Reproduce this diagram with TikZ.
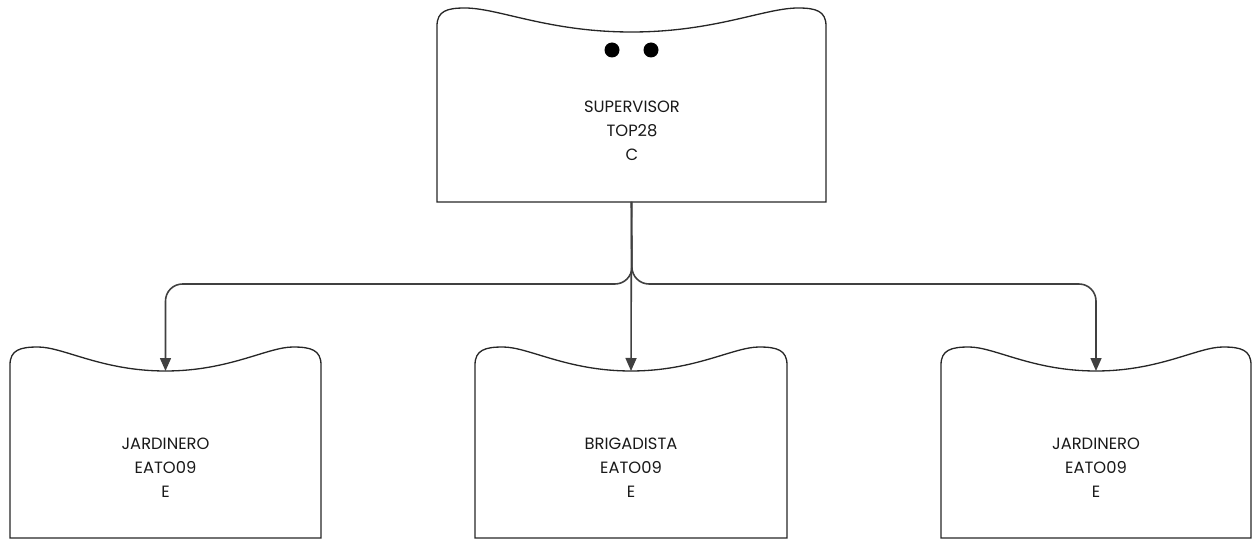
\documentclass[tikz,border=0pt]{standalone}
\usepackage{fontspec}
\setmainfont{Poppins}
\usetikzlibrary{arrows.meta}

% card with a wavy top: name, left, top, width, bottom
\newcommand{\card}[5]{%
  \pgfmathsetmacro{\cardR}{#2+#4}
  \pgfmathsetmacro{\cardM}{#2+#4/2}
  \pgfmathsetmacro{\cardD}{#4/2-28}
  \draw[cardline] (#2,#5) -- (#2,#3+18)
    .. controls (#2,#3+3) and (#2+10,#3) .. (#2+28,#3)
    .. controls (#2+28+0.2*\cardD,#3) and (\cardM-0.5*\cardD,#3+24) .. (\cardM,#3+24)
    .. controls (\cardM+0.5*\cardD,#3+24) and (\cardR-28-0.2*\cardD,#3) .. (\cardR-28,#3)
    .. controls (\cardR-10,#3) and (\cardR,#3+3) .. (\cardR,#3+18)
    -- (\cardR,#5) -- cycle;
  \coordinate (#1-top) at (\cardM,#3+24);
  \coordinate (#1-bot) at (\cardM,#5);
}

\begin{document}
\begin{tikzpicture}[x=0.02cm,y=-0.02cm,
  cardline/.style={draw=black!85,line width=0.75pt},
  link/.style={draw=black!75,line width=0.9pt,rounded corners=0.34cm,-{Triangle[length=0.26cm,width=0.22cm]}},
  cardtext/.style={align=center,font=\fontsize{9.3}{13.6}\selectfont,text=black!90}]
\useasboundingbox (0,0) rectangle (1252,540);

\card{sup}{437}{8}{389}{202}
\card{jarl}{10}{347}{311}{538}
\card{brig}{475}{347}{312}{538}
\card{jarr}{941}{347}{310}{538}

\fill[black] (612,50) circle[radius=0.15cm] (651,50) circle[radius=0.15cm];

\node[cardtext] (supt) at (632,131) {SUPERVISOR\\TOP28\\C};
\node[cardtext] (jarlt) at (165.5,468) {JARDINERO\\EATO09\\E};
\node[cardtext] (brigt) at (631,468) {BRIGADISTA\\EATO09\\E};
\node[cardtext] (jarrt) at (1096,468) {JARDINERO\\EATO09\\E};

\coordinate (bus) at (632,284);
\draw[link] (sup-bot) -- (bus) -| (jarl-top);
\draw[link] (sup-bot) -- (bus) -| (jarr-top);
\draw[link] (sup-bot) -- (brig-top);
\end{tikzpicture}
\end{document}
